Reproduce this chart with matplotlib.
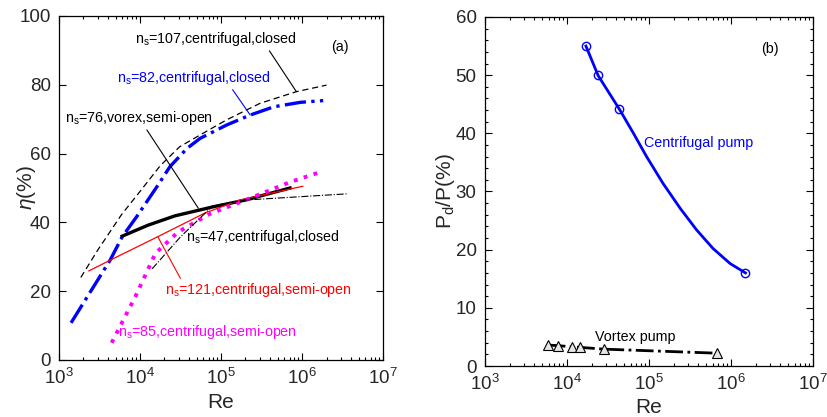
import numpy as np
import matplotlib.pyplot as plt
from matplotlib.ticker import LogLocator, MultipleLocator, NullFormatter, NullLocator

plt.rcParams['font.family'] = ['Liberation Sans', 'DejaVu Sans']
plt.rcParams['mathtext.fontset'] = 'custom'
plt.rcParams['mathtext.rm'] = 'Liberation Sans'
plt.rcParams['mathtext.it'] = 'Liberation Sans:italic'

# (a) efficiency vs Re for the different pumps
re_107 = [1860, 3020, 5890, 1.0e4, 1.78e4, 3.09e4, 5.5e4, 1.17e5, 3.02e5, 8.5e5, 2.0e6]
eta_107 = [24, 32, 42.2, 49.0, 56.5, 62.0, 65.4, 69.8, 74.6, 78.0, 79.9]

re_82 = [1410, 4270, 6030, 9120, 1.62e4, 2.34e4, 3.8e4, 5.5e4, 1.17e5, 2.29e5, 4.47e5, 9.55e5, 1.82e6]
eta_82 = [10.8, 29, 35.8, 41.7, 50.4, 56.2, 61.5, 64.4, 68.3, 71.2, 73.6, 74.9, 75.4]

re_76 = [6030, 1.26e4, 2.7e4, 7.9e4, 2.0e5, 7.1e5]
eta_76 = [36, 39.2, 41.9, 44.5, 46.5, 50]

re_121 = [2340, 4270, 1.55e4, 6.3e4, 1.7e5, 1.02e6]
eta_121 = [25.9, 29, 35.5, 42.7, 46.5, 50.5]

re_85 = [4470, 5620, 8710, 1.55e4, 2.95e4, 7.2e4, 2.0e5, 7.1e5, 1.66e6]
eta_85 = [5, 9.6, 18.3, 31, 37.2, 42.4, 46.5, 51.7, 54.6]

re_47 = [1.41e4, 3.16e4, 7.9e4, 2.0e5, 1.0e6, 3.6e6]
eta_47 = [26.5, 35.8, 44.8, 46.5, 47.5, 48.3]

# (b) disc friction loss ratio
cent_re = [1.7e4, 2.4e4, 4.3e4, 1.5e6]
cent_pd = [55, 50, 44.2, 16]
cent_line_re = [1.7e4, 2.4e4, 4.37e4, 6.46e4, 9.33e4, 1.48e5, 2.4e5, 3.8e5, 6.03e5, 9.77e5, 1.5e6]
cent_line_pd = [55, 49.9, 44.1, 40.0, 36.0, 31.4, 27.1, 23.4, 20.2, 17.6, 16]

vort_re = [5.8e3, 7.7e3, 1.15e4, 1.45e4, 2.8e4, 6.8e5]
vort_pd = [3.6, 3.5, 3.3, 3.2, 2.9, 2.2]

fig = plt.figure(figsize=(8.27, 4.17), dpi=100)
ax1 = fig.add_axes([0.0713, 0.1367, 0.392, 0.825])
ax2 = fig.add_axes([0.5865, 0.1223, 0.3966, 0.837])

ax1.plot(re_107, eta_107, 'k--', lw=0.9, dashes=(5, 3))
ax1.plot(re_82, eta_82, color='#0000ff', ls='-.', lw=2.4)
ax1.plot(re_76, eta_76, 'k-', lw=2.4)
ax1.plot(re_121, eta_121, color='#ff0000', lw=0.9)
ax1.plot(re_85, eta_85, color='#ff00ff', ls=':', lw=2.8)
ax1.plot(re_47, eta_47, 'k-.', lw=0.8)

fs = 10.3
line = dict(arrowstyle='-', lw=0.8, shrinkA=0, shrinkB=0)
ax1.annotate('n$_\\mathregular{s}$=107,centrifugal,closed', xy=(8.5e5, 78), xytext=(8.7e3, 93.3),
             fontsize=fs, va='center', ha='left', color='k',
             arrowprops=dict(line, color='k', relpos=(0.82, 0.0)))
ax1.annotate('n$_\\mathregular{s}$=82,centrifugal,closed', xy=(2.29e5, 71.2), xytext=(5.2e3, 82),
             fontsize=fs, va='center', ha='left', color='#0000ff',
             arrowprops=dict(line, color='#0000ff', relpos=(0.74, 0.0)))
ax1.annotate('n$_\\mathregular{s}$=76,vorex,semi-open', xy=(5.25e4, 44.1), xytext=(1.19e3, 70.3),
             fontsize=fs, va='center', ha='left', color='k',
             arrowprops=dict(line, color='k', relpos=(0.54, 0.0)))
ax1.text(3.7e4, 35.8, 'n$_\\mathregular{s}$=47,centrifugal,closed', fontsize=fs, va='center', ha='left', color='k')
ax1.annotate('n$_\\mathregular{s}$=121,centrifugal,semi-open', xy=(1.66e4, 35.8), xytext=(2.04e4, 20.3),
             fontsize=fs, va='center', ha='left', color='#ff0000',
             arrowprops=dict(line, color='#ff0000', relpos=(0.09, 1.0)))
ax1.text(5.4e3, 8.1, 'n$_\\mathregular{s}$=85,centrifugal,semi-open', fontsize=fs, va='center', ha='left', color='#ff00ff')
ax1.text(2.95e6, 91, '(a)', fontsize=fs, va='center', ha='center')

ax1.set_xscale('log')
ax1.set_xlim(1e3, 1e7)
ax1.set_ylim(0, 100)
ax1.set_yticks([0, 20, 40, 60, 80, 100])
ax1.yaxis.set_minor_locator(NullLocator())
ax1.set_xlabel('Re', fontsize=15)
ax1.set_ylabel('$\\eta$(%)', fontsize=15)
ax1.xaxis.set_label_coords(0.5, -0.125)
ax1.yaxis.set_label_coords(-0.099, 0.5)

ax2.plot(cent_line_re, cent_line_pd, color='#0000ff', lw=2)
ax2.plot(cent_re, cent_pd, 'o', color='#0000ff', mfc='none', ms=6, mew=1)
ax2.plot(vort_re, vort_pd, 'k-.', lw=2, marker='^', mfc='#e6e6e6', mec='k', ms=6.5, mew=0.8)
ax2.text(8.7e4, 38.3, 'Centrifugal pump', fontsize=fs, color='#0000ff', va='center', ha='left')
ax2.text(2.2e4, 5.0, 'Vortex pump', fontsize=fs, color='k', va='center', ha='left')
ax2.text(3.0e6, 54.5, '(b)', fontsize=fs, va='center', ha='center')

ax2.set_xscale('log')
ax2.set_xlim(1e3, 1e7)
ax2.set_ylim(0, 60)
ax2.set_yticks([0, 10, 20, 30, 40, 50, 60])
ax2.yaxis.set_minor_locator(MultipleLocator(2))
ax2.set_xlabel('Re', fontsize=15)
ax2.set_ylabel('P$_\\mathregular{d}$/P(%)', fontsize=15)
ax2.xaxis.set_label_coords(0.5, -0.12)
ax2.yaxis.set_label_coords(-0.122, 0.5)

for ax in (ax1, ax2):
    ax.xaxis.set_major_locator(LogLocator(base=10, numticks=10))
    ax.xaxis.set_minor_locator(LogLocator(base=10, subs=np.arange(2, 10), numticks=20))
    ax.xaxis.set_minor_formatter(NullFormatter())
    ax.tick_params(which='both', direction='in', top=True, right=True, colors='k',
                   labelcolor='#262626', labelsize=13.5, width=0.8)
    ax.tick_params(which='major', length=5, pad=6)
    ax.tick_params(which='minor', length=2.5)
    for s in ax.spines.values():
        s.set_linewidth(0.9)
    ax.xaxis.label.set_color('#262626')
    ax.yaxis.label.set_color('#262626')
    ax.xaxis.label.set_va('center')
    ax.yaxis.label.set_va('center')

fig.savefig('out.png', dpi=100)
